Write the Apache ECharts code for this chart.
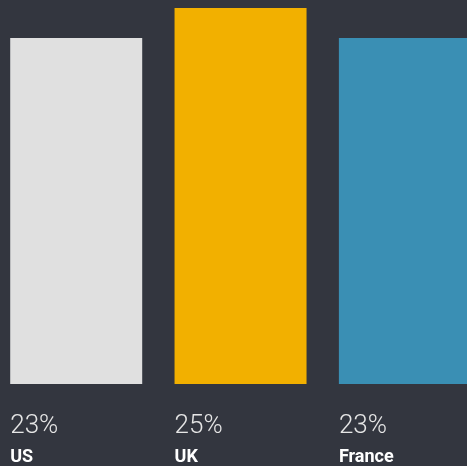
<!DOCTYPE html>
<html>
<head>
<meta charset="utf-8">
<script src="https://cdn.jsdelivr.net/npm/echarts@6/dist/echarts.min.js"></script>
<style>
html,body{margin:0;padding:0;background:#33363f;}
#c{width:467px;height:466px;}
</style>
</head>
<body>
<div id="c"></div>
<script>
const categories = ['US', 'UK', 'France'];
const values = [23, 25, 23];
const colors = ['#e0e0e0', '#f2b000', '#3a8fb4'];

const chart = echarts.init(document.getElementById('c'), null, {renderer: 'canvas'});
chart.setOption({
  backgroundColor: '#33363f',
  animation: false,
  grid: {left: 0, right: 0, top: 8, bottom: 82, containLabel: false},
  xAxis: {type: 'value', min: -0.4637, max: 2.378, show: false},
  yAxis: {type: 'value', min: 0, max: 25, show: false},
  series: [{
    type: 'bar',
    barWidth: 132,
    data: values.map((v, i) => ({value: [i, v], name: categories[i], itemStyle: {color: colors[i]}})),
    label: {
      show: true,
      position: [0, '100%'],
      offset: [0, 25],
      align: 'left',
      verticalAlign: 'top',
      formatter: p => '{p|' + p.value[1] + '%}\n{n|' + p.name + '}',
      rich: {
        p: {fontFamily: 'Roboto', fontWeight: 300, fontSize: 26, color: '#e6e6e6', lineHeight: 34},
        n: {fontFamily: 'Roboto', fontWeight: 'bold', fontSize: 18, color: '#ffffff', lineHeight: 28}
      }
    }
  }]
});
</script>
</body>
</html>
